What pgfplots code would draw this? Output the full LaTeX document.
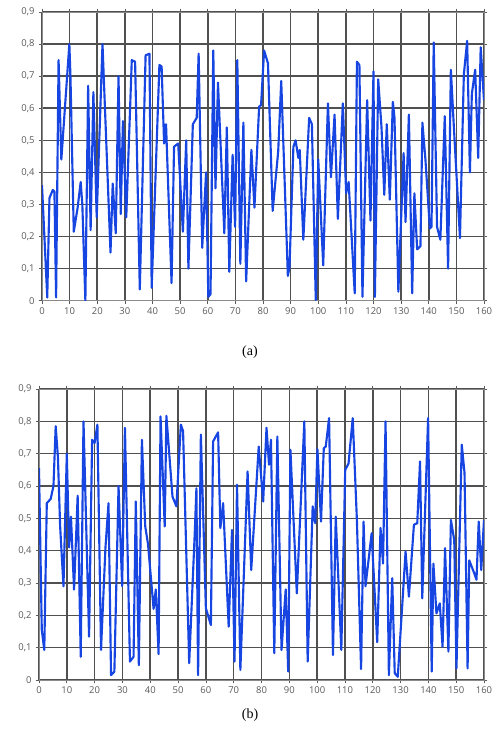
\documentclass[border=0pt]{standalone}
\usepackage{pgfplots}
\pgfplotsset{compat=1.18}
\usepackage{fontspec}
\setmainfont{Liberation Serif}
\newfontfamily\ticksfont{Open Sans}
\definecolor{linebl}{HTML}{1745E2}
\definecolor{gridc}{HTML}{505050}
\definecolor{tickc}{HTML}{5A5A5A}

\pgfplotsset{
  panel/.style={
    scale only axis,
    anchor=south west,
    xmin=0, xmax=160, ymin=0, ymax=0.9,
    xtick={0,10,...,160},
    ytick={0,0.1,...,0.9},
    grid=major,
    major grid style={gridc, line width=1.2pt},
    axis line style={tickc!70, line width=0.7pt},
    tick align=outside,
    major tick length=2.5pt,
    tick style={tickc, line width=0.5pt},
    ticklabel style={font=\ticksfont\fontsize{7.1}{7.5}\selectfont, text=tickc},
    /pgf/number format/use comma,
    /pgf/number format/assume math mode=true,
    yticklabel style={/pgf/number format/fixed, /pgf/number format/precision=1, xshift=0.5pt},
    xticklabel style={yshift=1pt},
  },
  series/.style={linebl, line width=1.6pt, line join=round, no markers},
}

\begin{document}
\begin{tikzpicture}
\useasboundingbox (0pt,0pt) rectangle (372.75pt,-560.25pt);

% (a)
\begin{axis}[panel, at={(31.5pt,-225.5pt)}, width=331.5pt, height=216.5pt]
\addplot[series] coordinates {
(0,0.36) (1.9,0.01) (2.7,0.32) (3.9,0.345) (4.5,0.34) (5.1,0.01) (6,0.75) (7,0.44)
(9.9,0.80) (10.3,0.70) (11.5,0.215) (12.9,0.29) (14,0.37) (14.6,0.30) (15.7,0.0)
(16.7,0.67) (17.6,0.22) (18.6,0.65) (19.8,0.26) (21.9,0.80) (24.8,0.15) (25.6,0.365)
(26.7,0.21) (27.7,0.70) (28.5,0.27) (29.3,0.56) (30.5,0.26) (32.5,0.75) (33.7,0.745)
(35.4,0.035) (37.5,0.765) (38.9,0.77) (39.7,0.04) (42.5,0.735) (43.3,0.73) (44.2,0.49)
(44.9,0.55) (46.9,0.055) (47.8,0.48) (49.3,0.49) (51,0.215) (52.2,0.50) (53,0.10)
(54.6,0.55) (56,0.57) (56.7,0.77) (58,0.165) (59.4,0.40) (60.2,0.012) (61,0.02)
(62,0.78) (62.8,0.35) (63.7,0.68) (66,0.21) (66.9,0.54) (67.8,0.09) (69,0.455)
(69.9,0.23) (70.7,0.75) (71.8,0.115) (72.9,0.555) (73.9,0.06) (75.8,0.47) (76.9,0.29)
(78.6,0.605) (79.3,0.61) (80.4,0.78) (81.8,0.74) (83.5,0.28) (85.5,0.465) (86.6,0.685)
(89,0.077) (89.6,0.105) (91,0.48) (91.8,0.50) (92.8,0.445) (93.3,0.47) (94.6,0.19)
(96.7,0.57) (97.7,0.55) (99.1,0.002) (100,0.44) (101.8,0.11) (103.5,0.615) (104.6,0.385)
(105.9,0.58) (107.1,0.255) (108.9,0.615) (110.1,0.335) (111,0.37) (113.2,0.023)
(114,0.745) (114.9,0.735) (116,0.012) (117.7,0.625) (118.9,0.25) (120,0.715)
(120.5,0.012) (121.7,0.69) (122.9,0.54) (123.9,0.33) (124.8,0.55) (125.9,0.315)
(127,0.62) (127.6,0.57) (129,0.028) (130.9,0.46) (131.6,0.245) (132.8,0.58) (134,0.023)
(134.8,0.335) (135.8,0.16) (137,0.17) (137.7,0.555) (138.8,0.44) (140.4,0.225)
(141,0.23) (141.8,0.805) (143,0.23) (144.2,0.19) (145.8,0.575) (147,0.10) (148,0.72)
(149.1,0.54) (151.3,0.195) (152.7,0.705) (153.9,0.81) (154.9,0.40) (155.6,0.645)
(156.8,0.72) (157.9,0.445) (158.8,0.79) (160,0.625)
};
\end{axis}
\node[font=\fontsize{10.5}{12}\selectfont] at (187.5pt,-264pt) {(a)};

% (b)
\begin{axis}[panel, at={(29.25pt,-510pt)}, width=333.75pt, height=218.25pt]
\addplot[series] coordinates {
(0,0.655) (1,0.155) (1.9,0.093) (2.8,0.547) (4.2,0.56) (5.2,0.60) (6,0.785) (6.8,0.69)
(7.6,0.475) (8.8,0.29) (10,0.70) (10.8,0.41) (11.5,0.505) (12.6,0.28) (13.9,0.57)
(15,0.072) (16,0.80) (18,0.134) (19.1,0.743) (20,0.733) (21,0.79) (22.3,0.093)
(23.9,0.41) (25,0.547) (25.9,0.015) (27.1,0.026) (28.6,0.60) (29.9,0.29) (30.9,0.78)
(32.7,0.057) (34,0.072) (34.8,0.552) (35.9,0.046) (37,0.743) (38.2,0.475) (39.2,0.42)
(41.2,0.22) (42,0.28) (43,0.08) (43.7,0.815) (45.2,0.475) (45.8,0.817) (48,0.567)
(49.4,0.537) (51,0.79) (51.8,0.77) (54,0.052) (56,0.454) (56.6,0.593) (57.2,0.015)
(58.2,0.759) (60,0.222) (61.8,0.17) (62.6,0.738) (64.4,0.766) (65.2,0.47) (66.2,0.547)
(68.2,0.165) (69.4,0.464) (70.3,0.057) (71.2,0.604) (72.4,0.031) (75,0.645) (76.3,0.34)
(79,0.722) (80.6,0.552) (81.8,0.78) (82.7,0.666) (83.4,0.743) (84.6,0.083) (85.7,0.753)
(87.2,0.093) (88.7,0.28) (89.6,0.026) (90.4,0.712) (92.7,0.268) (95.4,0.80) (96.6,0.057)
(98.4,0.537) (99.3,0.485) (100.1,0.714) (101.4,0.49) (102.4,0.717) (103.1,0.722)
(104.3,0.81) (105.7,0.077) (106.7,0.505) (108.7,0.093) (110.1,0.65) (111.3,0.67)
(112.8,0.81) (114.3,0.495) (115.8,0.034) (116.7,0.49) (117.4,0.29) (119.6,0.454)
(121.6,0.117) (122.8,0.47) (123.7,0.36) (124.6,0.80) (125.8,0.015) (127,0.315)
(127.9,0.021) (129,0.01) (131.8,0.397) (133,0.258) (134.8,0.48) (136,0.485) (137,0.676)
(137.8,0.253) (139.9,0.81) (141.2,0.026) (141.8,0.36) (142.9,0.206) (144.1,0.237)
(145.1,0.103) (146,0.408) (147.2,0.088) (148.1,0.495) (149.3,0.433) (150.1,0.036)
(152,0.728) (153,0.64) (154.1,0.036) (154.7,0.37) (156.5,0.33) (157.3,0.31) (158.1,0.49)
(159,0.34) (160,0.495)
};
\end{axis}
\node[font=\fontsize{10.5}{12}\selectfont] at (187.5pt,-536.25pt) {(b)};
\end{tikzpicture}
\end{document}
